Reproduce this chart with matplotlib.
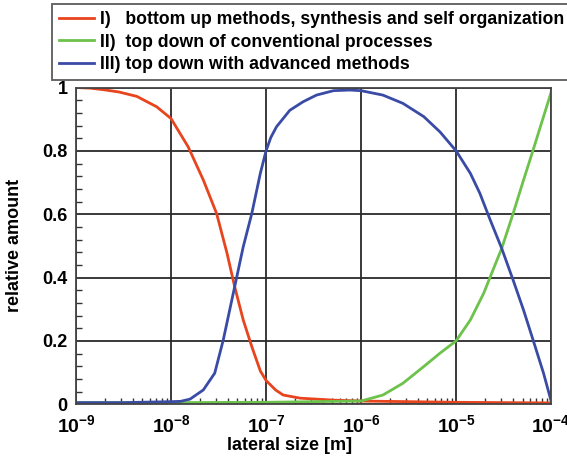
import matplotlib
matplotlib.use('Agg')
import matplotlib.pyplot as plt
from matplotlib.ticker import MultipleLocator, LogLocator, NullFormatter
import numpy as np

# log10 of lateral size [m] and relative amount
red_logx = [-9.0, -8.85, -8.71, -8.55, -8.36, -8.15, -8.0, -7.82, -7.66, -7.52,
            -7.41, -7.33, -7.24, -7.15, -7.06, -7.0, -6.9, -6.82, -6.64, -6.3,
            -6.0, -5.0, -4.0]
red_y = [1.0, 0.998, 0.993, 0.986, 0.972, 0.939, 0.902, 0.813, 0.708, 0.602,
         0.476, 0.371, 0.266, 0.182, 0.105, 0.075, 0.045, 0.029, 0.019, 0.013,
         0.01, 0.006, 0.004]

green_logx = [-9.0, -8.0, -7.0, -6.0, -5.77, -5.56, -5.34, -5.17, -5.0, -4.85,
              -4.71, -4.57, -4.52, -4.40, -4.29, -4.19, -4.08, -4.0]
green_y = [0.005, 0.005, 0.006, 0.01, 0.029, 0.066, 0.119, 0.161, 0.2, 0.266,
           0.35, 0.455, 0.492, 0.602, 0.708, 0.802, 0.908, 0.985]

blue_logx = [-9.0, -8.5, -8.0, -7.9, -7.8, -7.66, -7.54, -7.45, -7.33, -7.24,
             -7.15, -7.06, -7.0, -6.95, -6.89, -6.75, -6.61, -6.47, -6.29, -6.12,
             -6.0, -5.77, -5.56, -5.34, -5.17, -5.0, -4.85, -4.75, -4.64, -4.52,
             -4.40, -4.29, -4.19, -4.08, -4.0]
blue_y = [0.005, 0.005, 0.008, 0.009, 0.016, 0.045, 0.098, 0.203, 0.371, 0.497,
          0.602, 0.729, 0.8, 0.842, 0.876, 0.928, 0.955, 0.976, 0.99, 0.992,
          0.99, 0.976, 0.95, 0.908, 0.86, 0.8, 0.729, 0.666, 0.581, 0.492,
          0.392, 0.297, 0.203, 0.098, 0.01]

labels = ["I)   bottom up methods, synthesis and self organization",
          "II)  top down of conventional processes",
          "III) top down with advanced methods"]
xticks = [1e-9, 1e-8, 1e-7, 1e-6, 1e-5, 1e-4]
xticklabels = ["10$^{-9}$", "10$^{-8}$", "10$^{-7}$", "10$^{-6}$", "10$^{-5}$", "10$^{-4}$"]
yticks = [0, 0.2, 0.4, 0.6, 0.8, 1]
yticklabels = ["0", "0.2", "0.4", "0.6", "0.8", "1"]

plt.rcParams['font.family'] = ['Liberation Sans', 'DejaVu Sans']
plt.rcParams['font.weight'] = 'bold'
plt.rcParams['mathtext.default'] = 'bf'
plt.rcParams['mathtext.fontset'] = 'custom'
plt.rcParams['mathtext.bf'] = 'Liberation Sans:bold'

fig = plt.figure(figsize=(5.67, 4.63), dpi=100)
ax = fig.add_axes([0.134, 0.127, 0.838, 0.684])

l1, = ax.plot(10.0 ** np.array(red_logx), red_y, color='#e8441e', lw=2)
l2, = ax.plot(10.0 ** np.array(green_logx), green_y, color='#6cc24a', lw=2)
l3, = ax.plot(10.0 ** np.array(blue_logx), blue_y, color='#3a4ba6', lw=2)

ax.set_xscale('log')
ax.set_xlim(1e-9, 1e-4)
ax.set_ylim(0, 1)
ax.set_xticks(xticks)
ax.set_xticklabels(xticklabels, fontsize=14)
ax.set_yticks(yticks)
ax.set_yticklabels(yticklabels, fontsize=13)
ax.yaxis.set_minor_locator(MultipleLocator(0.04))
ax.xaxis.set_minor_locator(LogLocator(base=10, subs=np.arange(2, 10)))
ax.xaxis.set_minor_formatter(NullFormatter())
ax.tick_params(which='both', direction='in', color='#333333')
ax.tick_params(which='major', length=0)
ax.tick_params(axis='x', which='major', pad=7)
ax.tick_params(axis='y', which='major', pad=6)
ax.tick_params(which='minor', length=4, width=1)
ax.grid(True, which='major', color='#2a2a2a', lw=1.3)
for s in ax.spines.values():
    s.set_color('#444444')
    s.set_linewidth(1.3)

ax.set_xlabel("lateral size [m]", fontsize=13, fontweight='bold')
ax.xaxis.set_label_coords(0.45, -0.105)
ax.set_ylabel("relative amount", fontsize=13, fontweight='bold', labelpad=14)

leg = fig.legend([l1, l2, l3], labels, loc='upper left',
                 bbox_to_anchor=(0.092, 0.991), fontsize=12.7, frameon=True,
                 fancybox=False, edgecolor='#333333', handlelength=2.0,
                 handletextpad=0.3, labelspacing=0.3, borderpad=0.4,
                 borderaxespad=0)
leg.get_frame().set_linewidth(1.3)

fig.savefig("out.png", dpi=100)
